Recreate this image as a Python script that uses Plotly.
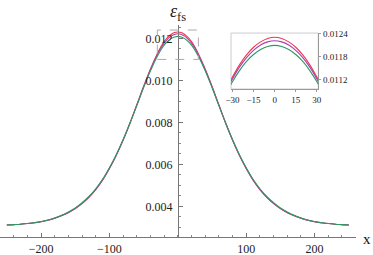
import plotly.graph_objects as go

# ---- data ----
x_vals = [-250, -240, -230, -220, -210, -200, -190, -180, -170, -160, -150, -140,
          -130, -120, -110, -100, -90, -80, -70, -60, -50, -40,
          -30, -25, -20, -15, -10, -5, 0, 5, 10, 15, 20, 25, 30,
          40, 50, 60, 70, 80, 90, 100, 110, 120, 130, 140, 150, 160,
          170, 180, 190, 200, 210, 220, 230, 240, 250]

eps_red = [0.00311, 0.00313, 0.00315, 0.00318, 0.00322, 0.00327, 0.00334, 0.00343,
           0.00355, 0.00370, 0.00389, 0.00413, 0.00443, 0.00480, 0.00525, 0.00580,
           0.00643, 0.00716, 0.00797, 0.00884, 0.00972, 0.01055,
           0.01127, 0.01159, 0.01185, 0.01205, 0.01219, 0.01228, 0.01231,
           0.01228, 0.01219, 0.01205, 0.01185, 0.01159, 0.01127,
           0.01055, 0.00972, 0.00884, 0.00797, 0.00716, 0.00643, 0.00580, 0.00525,
           0.00480, 0.00443, 0.00413, 0.00389, 0.00370, 0.00355, 0.00343, 0.00334,
           0.00327, 0.00322, 0.00318, 0.00315, 0.00313, 0.00311]

eps_purple = [0.00311, 0.00313, 0.00315, 0.00318, 0.00322, 0.00327, 0.00334, 0.00344,
              0.00356, 0.00371, 0.00390, 0.00414, 0.00444, 0.00481, 0.00526, 0.00581,
              0.00644, 0.00716, 0.00796, 0.00882, 0.00969, 0.01051,
              0.01122, 0.01153, 0.01178, 0.01197, 0.01211, 0.01219, 0.01222,
              0.01219, 0.01211, 0.01197, 0.01178, 0.01153, 0.01122,
              0.01051, 0.00969, 0.00882, 0.00796, 0.00716, 0.00644, 0.00581, 0.00526,
              0.00481, 0.00444, 0.00414, 0.00390, 0.00371, 0.00356, 0.00344, 0.00334,
              0.00327, 0.00322, 0.00318, 0.00315, 0.00313, 0.00311]

eps_green = [0.00311, 0.00313, 0.00315, 0.00318, 0.00322, 0.00328, 0.00335, 0.00345,
             0.00357, 0.00373, 0.00392, 0.00417, 0.00447, 0.00484, 0.00529, 0.00584,
             0.00646, 0.00717, 0.00796, 0.00880, 0.00966, 0.01046,
             0.01115, 0.01144, 0.01168, 0.01186, 0.01199, 0.01207, 0.01210,
             0.01207, 0.01199, 0.01186, 0.01168, 0.01144, 0.01115,
             0.01046, 0.00966, 0.00880, 0.00796, 0.00717, 0.00646, 0.00584, 0.00529,
             0.00484, 0.00447, 0.00417, 0.00392, 0.00373, 0.00357, 0.00345, 0.00335,
             0.00328, 0.00322, 0.00318, 0.00315, 0.00313, 0.00311]

x_ticks = [-200, -100, 100, 200]
x_tick_text = ["\u2212200", "\u2212100", "100", "200"]
y_ticks = [0.004, 0.006, 0.008, 0.010, 0.012]
y_tick_text = ["0.004", "0.006", "0.008", "0.010", "0.012"]

inset_x_ticks = [-30, -15, 0, 15, 30]
inset_x_text = ["\u221230", "\u221215", "0", "15", "30"]
inset_y_ticks = [0.0112, 0.0118, 0.0124]
inset_y_text = ["0.0112", "0.0118", "0.0124"]

zoom_x = [-30, 30]
zoom_y = [0.0110, 0.0124]

colors = ["#f2354f", "#a83fb3", "#2e9a5e"]
series = [eps_red, eps_purple, eps_green]

# ---- figure ----
FONT = "Liberation Serif"
x_range = [-260, 260.5]
y_range = [0.00254, 0.01264]

fig = go.Figure()
for ys, c in zip(series, colors):
    fig.add_trace(go.Scatter(x=x_vals, y=ys, mode="lines", line=dict(color=c, width=1.1, shape="spline"),
                             xaxis="x", yaxis="y", showlegend=False, hoverinfo="skip"))
for ys, c in zip(series, colors):
    fig.add_trace(go.Scatter(x=x_vals, y=ys, mode="lines", line=dict(color=c, width=1.1, shape="spline"),
                             xaxis="x2", yaxis="y2", showlegend=False, hoverinfo="skip"))

yaxis_pos = (0 - x_range[0]) / (x_range[1] - x_range[0])

fig.update_layout(
    width=373, height=255,
    margin=dict(l=0, r=17, t=25, b=18),
    paper_bgcolor="white", plot_bgcolor="rgba(0,0,0,0)",
    font=dict(family=FONT, size=12, color="#222"),
    xaxis=dict(
        domain=[0, 1], range=x_range, showgrid=False, zeroline=False,
        showline=True, linecolor="#777", linewidth=1,
        tickmode="array", tickvals=x_ticks, ticktext=x_tick_text,
        ticks="inside", ticklen=4, tickcolor="#777", tickwidth=1,
        minor=dict(ticks="inside", ticklen=2.5, dtick=20, tick0=0, tickcolor="#888", showgrid=False),
        tickfont=dict(family=FONT, size=12, color="#222"),
        ticklabelstandoff=1,
        automargin=False, anchor="y",
    ),
    yaxis=dict(
        domain=[0, 1], range=y_range, showgrid=False, zeroline=False,
        showline=True, linecolor="#777", linewidth=1,
        anchor="free", position=yaxis_pos, side="left",
        tickmode="array", tickvals=y_ticks, ticktext=y_tick_text,
        ticks="inside", ticklen=4, tickcolor="#777", tickwidth=1,
        minor=dict(ticks="inside", ticklen=2.5, dtick=0.0005, tick0=0, tickcolor="#888", showgrid=False),
        tickfont=dict(family=FONT, size=12, color="#222"),
        ticklabelstandoff=3,
        automargin=False,
    ),
    xaxis2=dict(
        domain=[0.649, 0.894], range=[-31, 31], showgrid=False, zeroline=False,
        showline=True, linecolor="#999", linewidth=1, anchor="y2",
        tickmode="array", tickvals=inset_x_ticks, ticktext=inset_x_text,
        ticks="outside", ticklen=2, tickcolor="#999",
        tickfont=dict(family=FONT, size=9, color="#222"),
        automargin=False,
    ),
    yaxis2=dict(
        domain=[0.698, 0.962], range=[0.01096, 0.01242], showgrid=False, zeroline=False,
        showline=True, linecolor="#999", linewidth=1, anchor="x2", side="right",
        tickmode="array", tickvals=inset_y_ticks, ticktext=inset_y_text,
        ticks="outside", ticklen=2, tickcolor="#999",
        tickfont=dict(family=FONT, size=9, color="#222"),
        automargin=False,
    ),
    shapes=[
        dict(type="rect", xref="x", yref="y", x0=zoom_x[0], x1=zoom_x[1], y0=zoom_y[0], y1=zoom_y[1],
             line=dict(color="#aaaaaa", width=1, dash="dash"), fillcolor="rgba(0,0,0,0)"),
        dict(type="rect", xref="x2 domain", yref="y2 domain", x0=0, x1=1, y0=0, y1=1,
             line=dict(color="#cccccc", width=1), fillcolor="rgba(0,0,0,0)", layer="below"),
    ],
    annotations=[
        dict(text="<i>ε</i><sub>fs</sub>", xref="x", yref="paper", x=0, y=1.06,
             xanchor="center", yanchor="middle", showarrow=False,
             font=dict(family=FONT, size=18, color="#222")),
        dict(text="x", xref="paper", yref="paper", x=1, y=0,
             xanchor="center", yanchor="middle", xshift=11, yshift=-2, showarrow=False,
             borderpad=0, font=dict(family=FONT, size=15, color="#111")),
    ],
)

fig.write_html("out.html", config={"displayModeBar": False},
               post_script="document.body.style.margin='0';")
